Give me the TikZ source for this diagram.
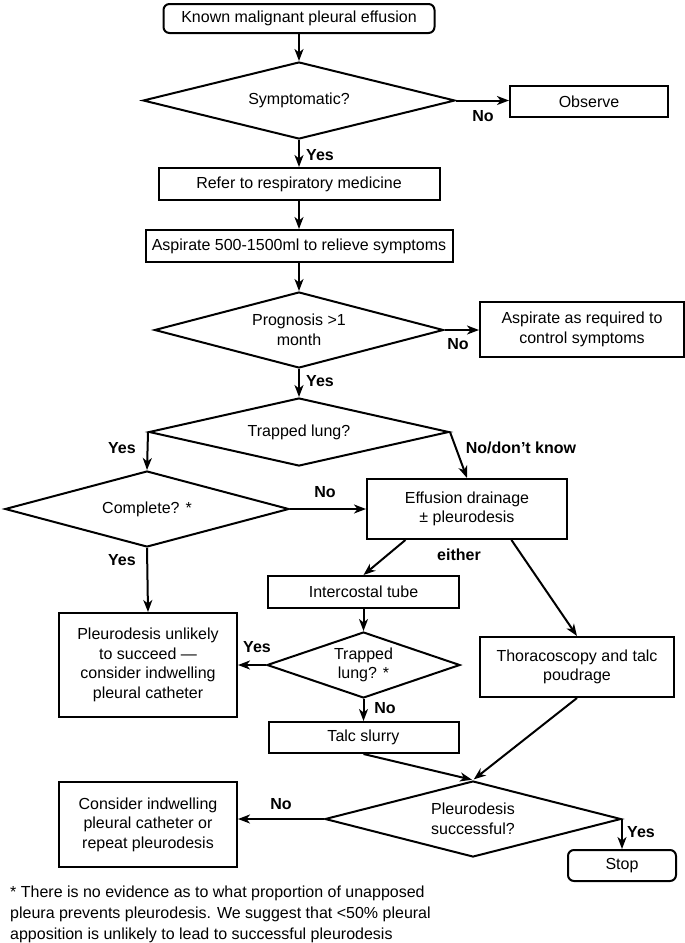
\documentclass[tikz,border=0pt]{standalone}
\usepackage{fontspec}
\setmainfont{Liberation Sans}
\usetikzlibrary{shapes.geometric,arrows.meta,calc}
\begin{document}
\begin{tikzpicture}[x=1pt,y=-1pt,
  every node/.style={font=\fontsize{16}{19.5}\selectfont},
  box/.style={draw,line width=2pt,inner sep=0pt,align=center},
  rbox/.style={box,rounded corners=6pt},
  dia/.style={draw,diamond,line width=2pt,inner sep=0pt,align=center},
  arr/.style={line width=2pt,-{Stealth[length=12pt,width=9pt,inset=3.5pt]}},
  lab/.style={font=\fontsize{16}{19}\selectfont\bfseries},
  note/.style={font=\fontsize{16}{21}\selectfont,align=left,inner sep=0pt}
]
\useasboundingbox (0,0) rectangle (685,943);

\node[rbox, minimum width=271pt, minimum height=29pt] (start) at (299,18.5) {Known malignant pleural effusion};
\node[dia, shape aspect=4.05, minimum width=312pt, minimum height=77pt] (d1) at (299,100.5) {Symptomatic?};
\node[box, minimum width=158pt, minimum height=31pt] (obs) at (589,101.5) {Observe};
\node[box, minimum width=281pt, minimum height=32pt] (refer) at (299,184) {Refer to respiratory medicine};
\node[box, minimum width=307pt, minimum height=32pt] (asp) at (299,246) {Aspirate 500-1500ml to relieve symptoms};
\node[dia, shape aspect=3.8, minimum width=289pt, minimum height=76pt] (d2) at (299,330) {Prognosis >1\\month};
\node[box, minimum width=204pt, minimum height=55pt] (asp2) at (582,329.5) {Aspirate as required to\\control symptoms};
\node[dia, shape aspect=4.4, minimum width=300pt, minimum height=68pt] (d3) at (299,432) {Trapped lung?};
\node[dia, shape aspect=3.75, minimum width=284pt, minimum height=76pt] (d4) at (147,509) {Complete? *};
\node[box, minimum width=200pt, minimum height=60pt] (eff) at (467,509) {Effusion drainage\\± pleurodesis};
\node[box, minimum width=191pt, minimum height=32pt] (ic) at (363.5,592) {Intercostal tube};
\node[dia, shape aspect=2.92, minimum width=193pt, minimum height=66pt] (d5) at (363.5,665) {Trapped\\lung? *};
\node[box, minimum width=178pt, minimum height=104pt] (pu) at (148,665) {Pleurodesis unlikely\\to succeed —\\consider indwelling\\pleural catheter};
\node[box, minimum width=194pt, minimum height=60pt] (thor) at (577,667) {Thoracoscopy and talc\\poudrage};
\node[box, minimum width=190pt, minimum height=31pt] (talc) at (363.5,737.5) {Talc slurry};
\node[dia, shape aspect=3.9, minimum width=296pt, minimum height=76pt] (d6) at (473,819) {Pleurodesis\\successful?};
\node[box, minimum width=178pt, minimum height=85pt] (cons) at (148,824.5) {Consider indwelling\\pleural catheter or\\repeat pleurodesis};
\node[rbox, minimum width=108pt, minimum height=31pt] (stop) at (622,865.5) {Stop};

\coordinate (effL) at ($(eff.south west)!0.195!(eff.south east)$);
\coordinate (effR) at ($(eff.south west)!0.72!(eff.south east)$);

\draw[arr] (start.south) -- (d1.north);
\draw[arr] (d1.east) -- (d1.east -| obs.west);
\draw[arr] (d1.south) -- (refer.north);
\draw[arr] (refer.south) -- (asp.north);
\draw[arr] (asp.south) -- (d2.north);
\draw[arr] (d2.east) -- (d2.east -| asp2.west);
\draw[arr] (d2.south) -- (d3.north);
\draw[arr] (d3.west) -- (d4.north);
\draw[arr] (d3.east) -- (eff.north);
\draw[arr] (d4.east) -- (eff.west);
\draw[arr] (d4.south) -- (pu.north);
\draw[arr] (effL) -- (ic.north);
\draw[arr] (effR) -- (thor.north);
\draw[arr] (ic.south) -- (d5.north);
\draw[arr] (d5.west) -- (d5.west -| pu.east);
\draw[arr] (d5.south) -- (talc.north);
\draw[arr,shorten >=1pt] (talc.south) -- (d6.north);
\draw[arr,shorten >=1pt] (thor.south) -- (d6.north);
\draw[arr] (d6.west) -- (d6.west -| cons.east);
\draw[arr] (d6.east) -- (d6.east |- stop.north);

\node[lab] (l1) at (483,116) {No};
\node[lab] (l2) at (320,155) {Yes};
\node[lab] (l3) at (458,344) {No};
\node[lab] (l4) at (320,381) {Yes};
\node[lab] (l5) at (122,448) {Yes};
\node[lab] (l6) at (521,448) {No/don\symbol{39}t know};
\node[lab] (l7) at (325,492) {No};
\node[lab] (l8) at (122,560) {Yes};
\node[lab] (l9) at (459,555) {either};
\node[lab] (l10) at (257,647) {Yes};
\node[lab] (l11) at (385,708) {No};
\node[lab] (l12) at (281,804) {No};
\node[lab] (l13) at (641,832) {Yes};

\node[note, anchor=base west] (fn) at (10,939) {* There is no evidence as to what proportion of unapposed\\pleura prevents pleurodesis. We suggest that <50\% pleural\\apposition is unlikely to lead to successful pleurodesis};
\end{tikzpicture}
\end{document}
